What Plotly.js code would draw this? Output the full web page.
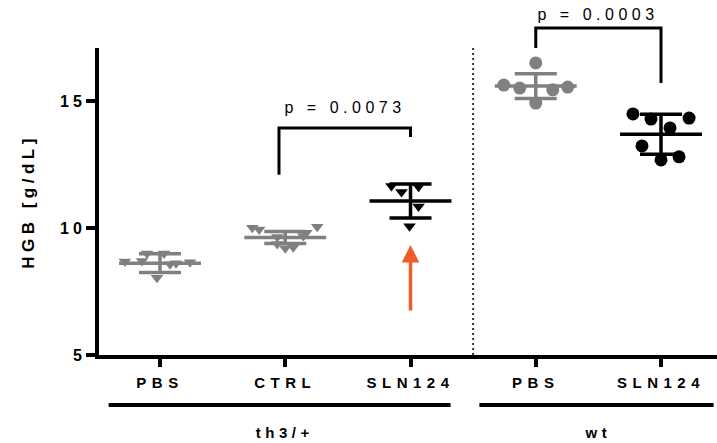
<!DOCTYPE html>
<html><head><meta charset="utf-8">
<script src="https://cdn.plot.ly/plotly-3.0.1.min.js"></script>
<style>
html,body{margin:0;padding:0;background:#fff;}
#chart{width:717px;height:443px;}
g.xtick text{letter-spacing:5.5px;}
g.ytick text{letter-spacing:4px;}
text.ytitle{letter-spacing:4.5px;}
g.annotation text{letter-spacing:4.5px;}
</style></head><body><div id="chart"></div>
<script>
// ---- data ----
const tickLabels = ['PBS', 'CTRL', 'SLN124', 'PBS', 'SLN124'];
const genotypeLabels = ['th3/+', 'wt'];
const th3PBS    = [8.69, 8.70, 9.00, 9.00, 8.58, 8.62, 8.66, 8.04];
const th3CTRL   = [10.02, 9.95, 9.65, 9.37, 9.21, 9.25, 9.69, 9.82, 10.05];
const th3SLN124 = [11.66, 11.42, 11.63, 10.85, 10.07];
const wtPBS     = [16.51, 15.64, 15.52, 15.45, 15.56, 14.93];
const wtSLN124  = [14.50, 14.30, 14.34, 13.95, 13.24, 12.69, 12.81];
const groupMeans = [8.62, 9.63, 11.07, 15.60, 13.70];
const groupSDs   = [0.37, 0.24, 0.67, 0.49, 0.79];
const pValueLabels = ['p = 0.0073', 'p = 0.0003'];
const yTickVals = [5, 10, 15];

// ---- layout / style settings ----
const FONT = 'Liberation Sans, Arial, Helvetica, sans-serif';
const dotOffsets = [
  [-0.28, -0.144, -0.104, 0.032, 0.08, 0.128, 0.24, -0.024],
  [-0.263, -0.208, -0.064, -0.064, 0, 0.064, 0.144, 0.168, 0.255],
  [-0.152, -0.072, 0.064, 0.064, -0.008],
  [0, -0.255, -0.128, 0.136, 0.255, 0],
  [-0.224, -0.08, 0.224, 0.072, -0.152, 0, 0.144]
];
const groupValues = [th3PBS, th3CTRL, th3SLN124, wtPBS, wtSLN124];
const colors = ['#808080', '#808080', '#000000', '#808080', '#000000'];
const symbols = ['triangle-down', 'triangle-down', 'triangle-down', 'circle', 'circle'];
const sizes = [11, 11, 11, 13, 13];
const yMin = 5, yMax = 17.1;
const yp = v => (v - yMin) / (yMax - yMin);

const traces = [];
groupValues.forEach((vals, i) => {
  traces.push({
    type: 'scatter', mode: 'markers',
    x: vals.map((v, j) => i + dotOffsets[i][j]), y: vals,
    marker: {symbol: symbols[i], size: sizes[i], color: colors[i], line: {width: 0}},
    hoverinfo: 'y'
  });
});
groupMeans.forEach((m, i) => {
  traces.push({
    type: 'scatter', mode: 'markers',
    x: [i], y: [m],
    marker: {size: 1, color: 'rgba(0,0,0,0)'},
    error_y: {type: 'data', array: [groupSDs[i]], width: 21, thickness: 3.5, color: colors[i]},
    error_x: {type: 'data', array: [0.327], width: 0, thickness: 3.5, color: colors[i]},
    hoverinfo: 'skip'
  });
});

// brackets
const brackets = [
  {x0: 0.95, x1: 2, yl: 12.10, yr: 13.59, top: 13.95, label: 14.74},
  {x0: 3, x1: 4, yl: 17.10, yr: 15.72, top: 17.89, label: 18.44}
];
const shapes = [];
const annotations = [];
brackets.forEach((b, k) => {
  shapes.push({type: 'path', xref: 'x', yref: 'paper',
    path: `M${b.x0},${yp(b.yl)} L${b.x0},${yp(b.top)} L${b.x1},${yp(b.top)} L${b.x1},${yp(b.yr)}`,
    line: {color: '#000', width: 3}});
  annotations.push({xref: 'x', yref: 'paper', x: (b.x0 + b.x1) / 2, y: yp(b.label),
    text: pValueLabels[k], showarrow: false, xanchor: 'center', yanchor: 'middle',
    font: {family: FONT, size: 16, color: '#000'}});
});
// separator
shapes.push({type: 'line', xref: 'x', yref: 'paper', x0: 2.5, x1: 2.5, y0: 0, y1: 1,
  line: {color: '#333', width: 2, dash: '2px,3px'}});
// genotype group lines + labels
const groupSpans = [[-0.41, 2.32, 1], [2.55, 4.42, 3.5]];
groupSpans.forEach((s, k) => {
  shapes.push({type: 'line', xref: 'x', yref: 'paper', x0: s[0], x1: s[1], y0: -0.163, y1: -0.163,
    line: {color: '#000', width: 4}});
  annotations.push({xref: 'x', yref: 'paper', x: s[2], y: -0.254, text: genotypeLabels[k],
    showarrow: false, xanchor: 'center', yanchor: 'middle',
    font: {family: FONT, size: 15, weight: 700, color: '#000'}});
});
// orange arrow
annotations.push({xref: 'x', yref: 'y', axref: 'x', ayref: 'y', x: 2, y: 9.34, ax: 2, ay: 6.69,
  text: '', showarrow: true, arrowhead: 2, arrowsize: 1, arrowwidth: 3.5, arrowcolor: '#F15A29'});

const layout = {
  width: 717, height: 443,
  margin: {l: 99, r: 0, t: 48, b: 88},
  paper_bgcolor: '#fff', plot_bgcolor: '#fff',
  showlegend: false,
  font: {family: FONT, color: '#000'},
  xaxis: {
    range: [-0.487, 4.447], tickvals: [0, 1, 2, 3, 4], ticktext: tickLabels,
    ticks: 'outside', ticklen: 8, tickwidth: 4, tickcolor: '#000',
    showline: true, linewidth: 4, linecolor: '#000',
    showgrid: false, zeroline: false, ticklabelstandoff: 3,
    tickfont: {family: FONT, size: 15, weight: 700, color: '#000'}
  },
  yaxis: {
    range: [yMin, yMax], tickvals: yTickVals, ticktext: yTickVals.map(String),
    ticks: 'outside', ticklen: 9, tickwidth: 4, tickcolor: '#000',
    showline: true, linewidth: 4, linecolor: '#000',
    showgrid: false, zeroline: false, ticklabelstandoff: -3,
    tickfont: {family: FONT, size: 16, weight: 700, color: '#000'},
    title: {text: 'HGB [g/dL]', font: {family: FONT, size: 17, weight: 700, color: '#000'}, standoff: 22}
  },
  shapes: shapes,
  annotations: annotations
};
Plotly.newPlot('chart', traces, layout, {displayModeBar: false, staticPlot: true});
</script></body></html>
